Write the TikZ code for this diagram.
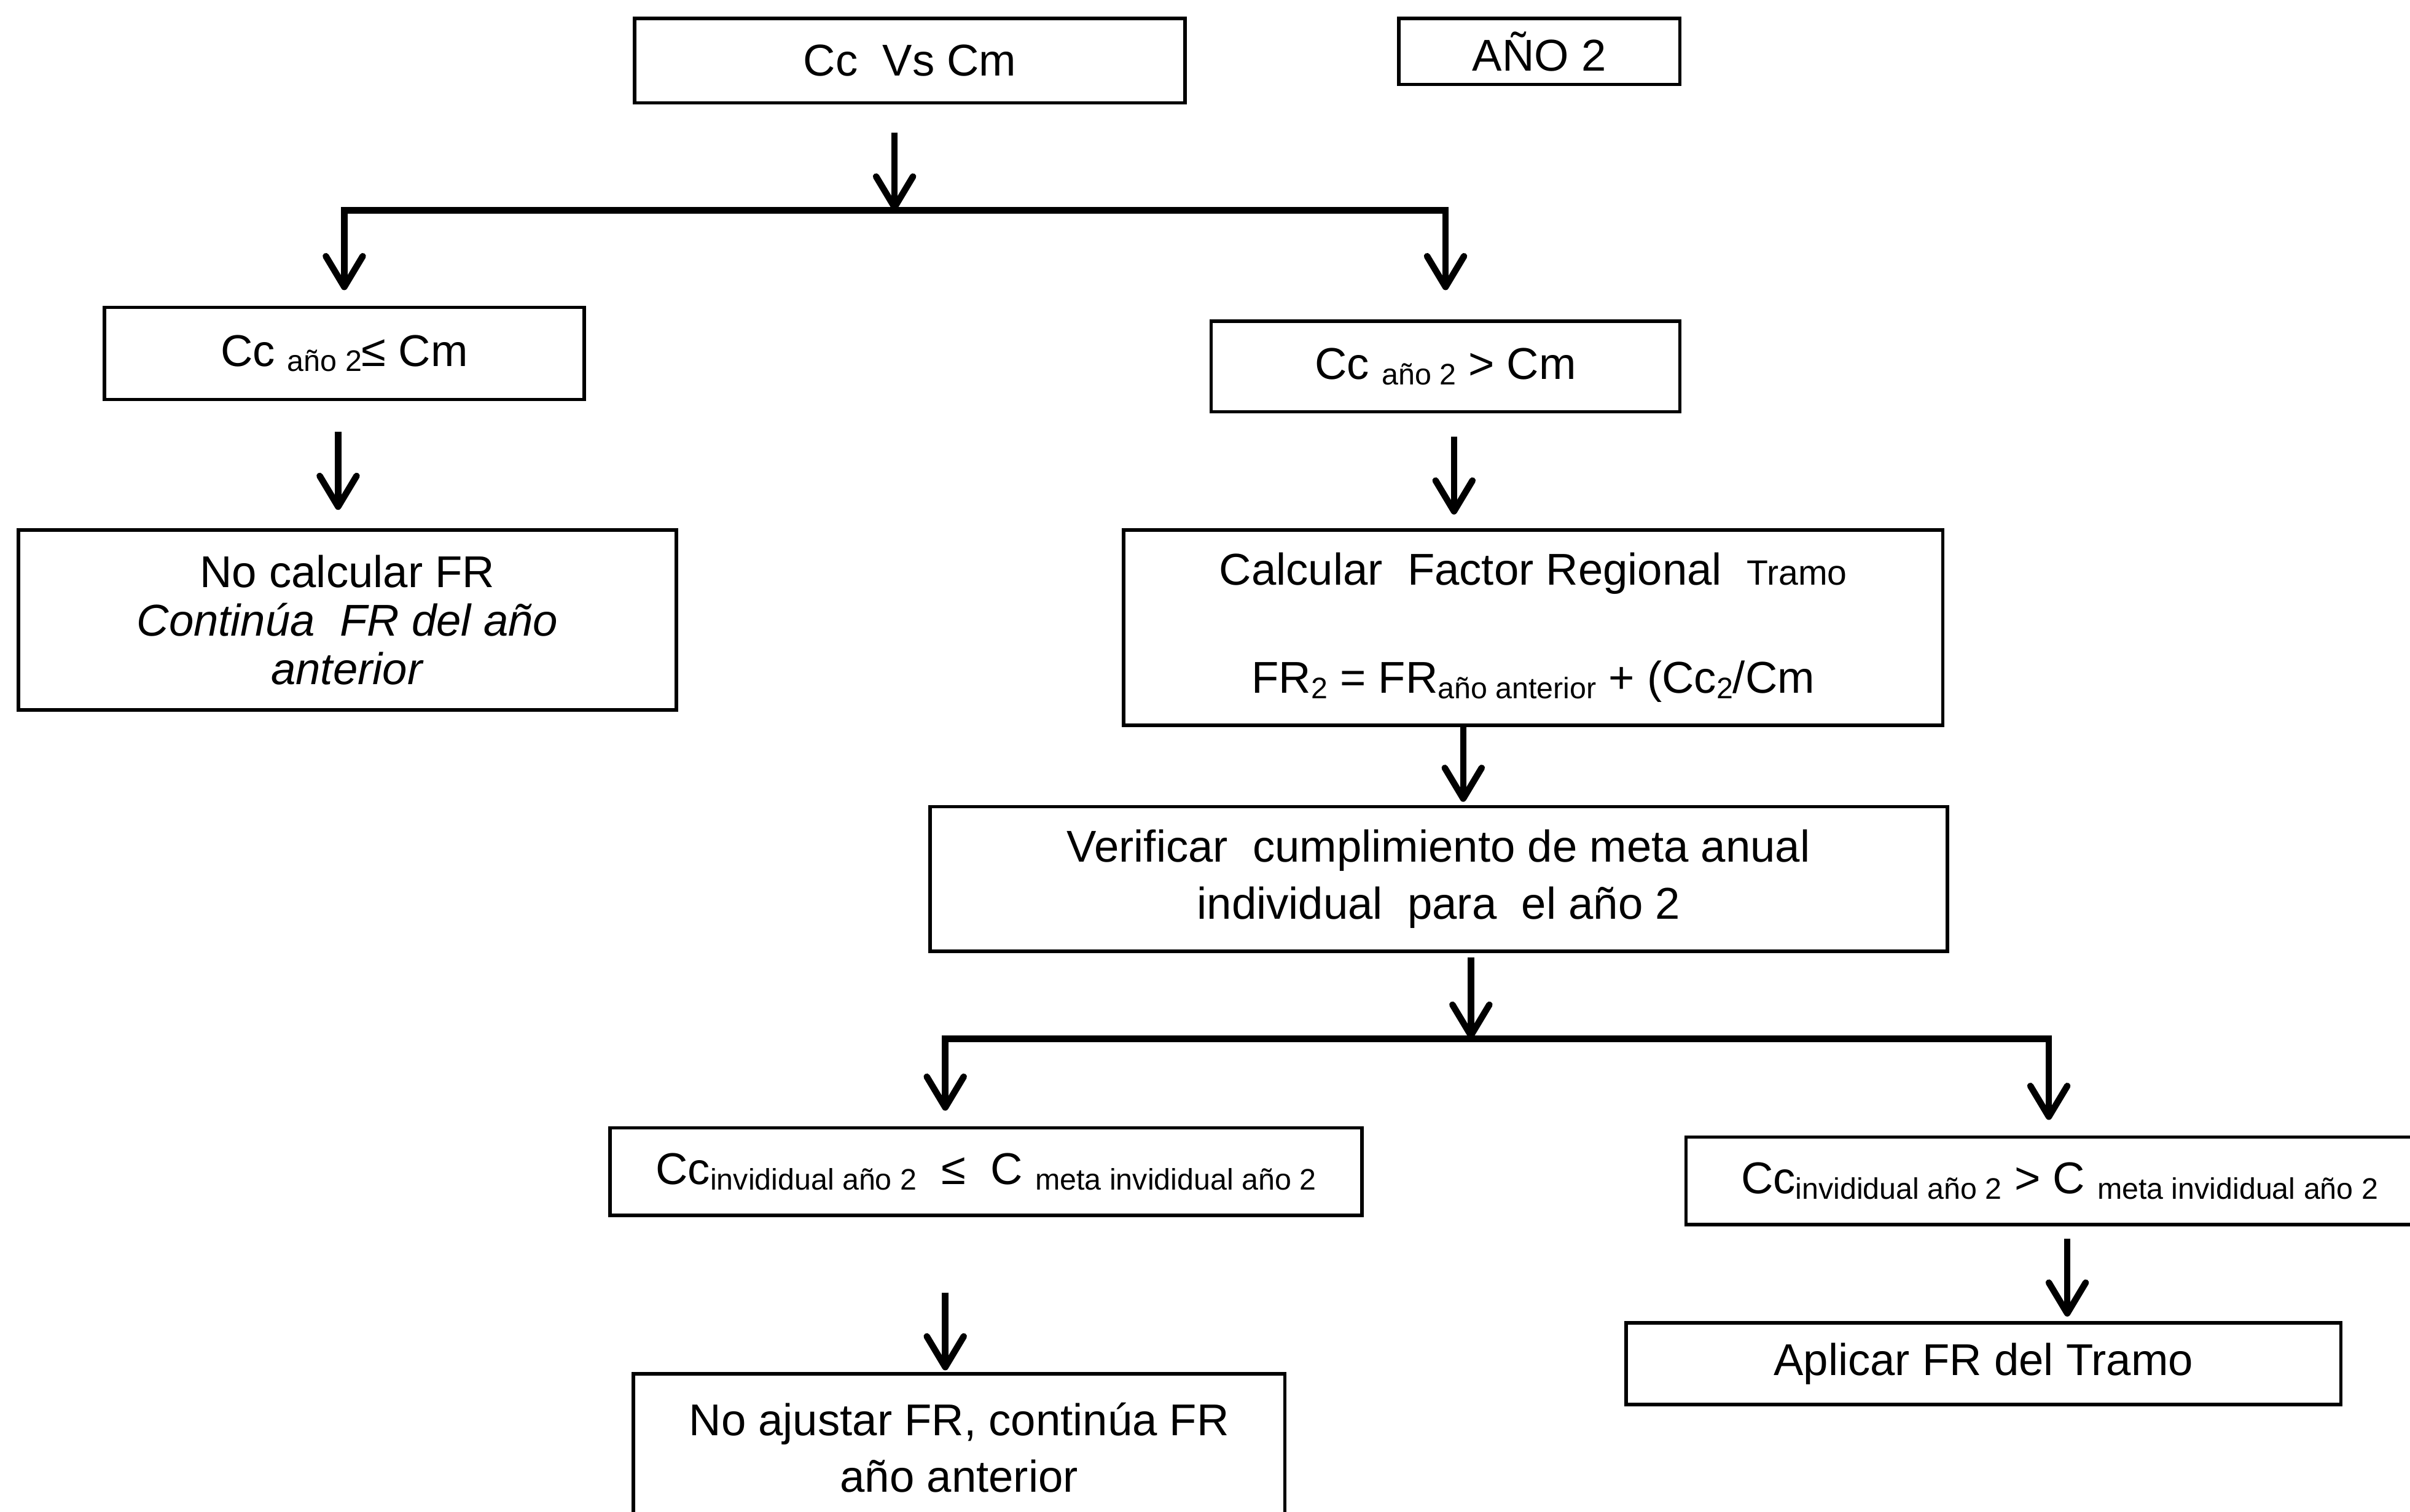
\documentclass[tikz,border=0pt]{standalone}
\usepackage{fontspec}
\setmainfont{Liberation Sans}
\usetikzlibrary{arrows.meta}
\newcommand{\subtxt}[1]{\raisebox{-2pt}{\fontsize{11}{11}\selectfont #1}}

\begin{document}
\begin{tikzpicture}[x=0.2mm, y=-0.2mm,
    main/.style = {draw, rectangle, line width=1.3pt, inner sep=0pt, align=center, font=\fontsize{16.5}{20}\selectfont},
    arr/.style = {line width=2.4pt, -{Straight Barb[length=4mm,width=4.8mm,round]}}
    ]
\useasboundingbox (0,0) rectangle (1568,984);

\node[main, minimum width=71.6mm, minimum height=11mm] (0) at (592,39.5) {Cc\ \ Vs Cm};
\node[main, minimum width=36.6mm, minimum height=8.6mm] (1) at (1001.5,33.5) {AÑO 2};

\node[main, minimum width=62.4mm, minimum height=12mm] (2) at (224,230) {Cc \subtxt{año 2}≤ Cm};
\node[main, minimum width=61mm, minimum height=11.8mm] (3) at (940.5,238.5) {Cc \subtxt{año 2} > Cm};

\node[main, minimum width=85.6mm, minimum height=23.4mm, font=\fontsize{16.5}{18}\selectfont] (4) at (226,403.5)
    {No calcular FR\\ \textit{Continúa\ \ FR del año}\\ \textit{anterior}};
\node[main, minimum width=106.6mm, minimum height=25.4mm] (5) at (997.5,408.5)
    {Calcular\ \ Factor Regional\ \ {\fontsize{13}{13}\selectfont Tramo}\\[20pt]
     FR\subtxt{2} = FR\subtxt{año anterior} + (Cc\subtxt{2}/Cm};

\node[main, minimum width=132.4mm, minimum height=18.8mm, font=\fontsize{16.5}{21}\selectfont] (6) at (936,572)
    {Verificar\ \ cumplimiento de meta anual\\ individual\ \ para\ \ el año 2};

\node[main, minimum width=97.8mm, minimum height=11.4mm] (7) at (641.5,762.5)
    {Cc\subtxt{invididual año 2}\ \ ≤\ \ C \subtxt{meta invididual año 2}};
\node[main, minimum width=97.2mm, minimum height=11.4mm] (8) at (1340,768.5)
    {Cc\subtxt{invididual año 2} > C \subtxt{meta invididual año 2}};

\node[main, minimum width=84.8mm, minimum height=19.2mm, font=\fontsize{16.5}{21}\selectfont] (9) at (624,942)
    {No ajustar FR, continúa FR\\ año anterior};
\node[main, minimum width=93mm, minimum height=10.6mm] (10) at (1290.5,887.5) {Aplicar FR del Tramo};

\coordinate (j0) at (582,137);
\coordinate (j1) at (957,676);

\draw[arr, shorten <=3.6mm] (0.south -| j0) -- (j0);
\draw[arr, shorten >=2mm] (j0) -| (2.north);
\draw[arr, shorten >=3.8mm] (j0) -| (3.north);

\draw[arr, shorten <=4mm, shorten >=2.4mm] ([xshift=-0.8mm]2.south) -- ([xshift=-0.8mm]2.south |- 4.north);
\draw[arr, shorten <=3mm, shorten >=1.8mm] ([xshift=1.1mm]3.south) -- ([xshift=1.1mm]3.south |- 5.north);
\draw[arr, shorten >=0.4mm] ([xshift=-9.1mm]5.south) -- ([xshift=-9.1mm]5.south |- 6.north);

\draw[arr, shorten <=0.6mm] (6.south -| j1) -- (j1);
\draw[arr, shorten >=2mm] (j1) -| ([xshift=-5.3mm]7.north);
\draw[arr, shorten >=2mm] (j1) -| ([xshift=-1.4mm]8.north);

\draw[arr, shorten <=9.8mm, shorten >=0.2mm] ([xshift=-1.8mm]9.north |- 7.south) -- ([xshift=-1.8mm]9.north);
\draw[arr, shorten <=1.6mm, shorten >=0.6mm] ([xshift=1mm]8.south) -- ([xshift=1mm]8.south |- 10.north);

\end{tikzpicture}
\end{document}
